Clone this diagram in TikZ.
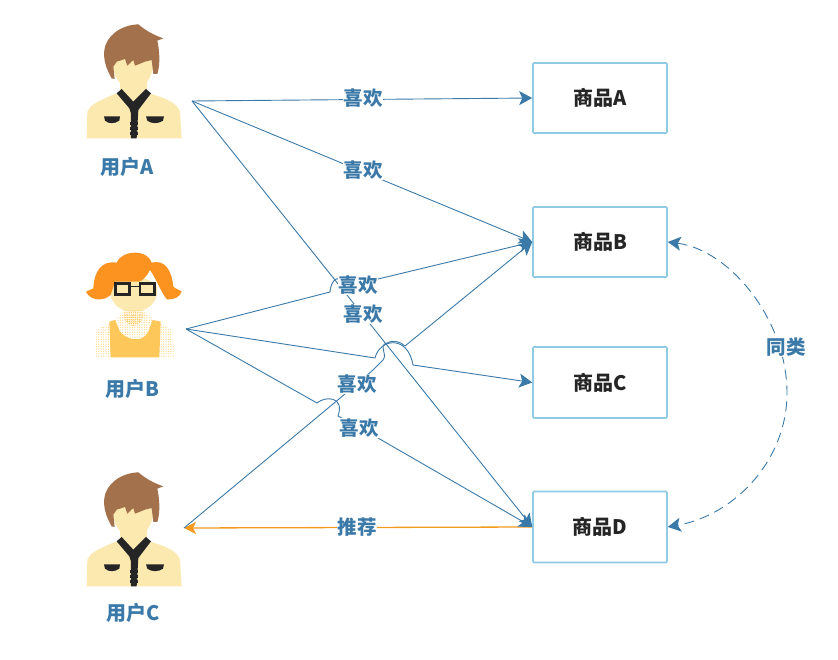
\documentclass[tikz,border=0pt]{standalone}
\usepackage{fontspec}
\setmainfont{Noto Sans CJK SC}
\usetikzlibrary{arrows.meta,patterns}
\definecolor{edgeblue}{HTML}{3A79A8}
\definecolor{boxblue}{HTML}{8FCBE3}
\definecolor{hairbrown}{HTML}{A3714C}
\definecolor{skin}{HTML}{FBE9B0}
\definecolor{ink}{HTML}{252525}
\definecolor{hairorange}{HTML}{FC9220}
\definecolor{top}{HTML}{FDC75A}
\definecolor{recom}{HTML}{F39A1F}
\tikzset{
 arrowblue/.tip={Stealth[length=13pt,width=14pt,inset=3pt]},
 link/.style={draw=edgeblue,line width=0.9pt,line join=round},
 tip/.style={-arrowblue},
 prod/.style={draw=boxblue,line width=1.6pt,rounded corners=1pt,fill=white,minimum width=134pt,inner sep=0pt,font=\bfseries\fontsize{20}{22}\selectfont,text=ink},
 lbl/.style={fill=white,inner sep=0.5pt,text=edgeblue,font=\bfseries\fontsize{19.5}{21}\selectfont},
 who/.style={inner sep=0pt,text=edgeblue,font=\bfseries\fontsize{20}{22}\selectfont},
}
\newcommand{\manfig}[2]{%
 \begin{scope}[shift={(#1,#2)},x=0.3333pt,y=-0.3333pt]
  \fill[skin] (50,385)--(52,305) .. controls (60,285) and (80,275) .. (135,252)--(245,252) .. controls (300,270) and (320,280) .. (330,305)--(335,385)--cycle;
  \fill[skin] (150,215) rectangle (230,260);
  \fill[skin] (122,120) .. controls (122,205) and (160,240) .. (188,240) .. controls (220,240) and (256,205) .. (254,120) --cycle;
  \fill[hairbrown] (125,205) .. controls (108,175) and (100,150) .. (103,120) .. controls (108,80) and (150,45) .. (205,43) .. controls (225,60) and (250,75) .. (280,85)--(262,92) .. controls (268,120) and (272,160) .. (262,192)--(250,192)--(245,150)--(225,155)--(195,167)--(190,150)--(172,167)--(165,147)--(140,155)--(130,170)--(134,207)--cycle;
  \fill[ink] (140,250)--(155,237)--(190,275)--(228,237)--(243,250)--(205,300)--(200,385)--(183,385)--(183,310)--(178,295)--cycle;
  \fill[ink] (180,337) rectangle (205,345);
  \fill[ink] (180,352) rectangle (205,360);
  \fill[ink] (180,367) rectangle (203,375);
  \fill[ink] (102,319) -- (150,319) -- (148,332) .. controls (135,342) and (115,342) .. (105,332) -- cycle;
  \fill[ink] (228,319) -- (282,319) -- (279,332) .. controls (265,342) and (245,342) .. (232,332) -- cycle;
 \end{scope}}
\newcommand{\womanfig}[2]{%
 \begin{scope}[shift={(#1,#2)},x=0.3333pt,y=-0.3333pt]
  \begin{scope}
   \clip (75,350)--(80,268)--(120,250)--(150,225)--(235,225)--(270,250)--(305,270)--(315,350)--cycle;
   \foreach \i in {0,...,34} \foreach \j in {0,...,20}
     \fill[top!60!skin] (72+\i*7.2,212+\j*7.2) circle (1.9);
  \end{scope}
  \fill[skin] (120,150) .. controls (120,190) and (150,215) .. (190,215) .. controls (232,215) and (262,190) .. (262,150) .. controls (262,100) and (120,100) .. (120,150)--cycle;
  \begin{scope}
   \clip (158,212) .. controls (158,240) and (175,258) .. (190,258) .. controls (205,258) and (224,240) .. (224,212) --cycle;
   \foreach \i in {0,...,10} \foreach \j in {0,...,7}
     \fill[top] (158+\i*6.5,212+\j*6.5) circle (2.4);
  \end{scope}
  \fill[top] (118,245)--(135,240)--(150,275) .. controls (165,295) and (215,315) .. (235,275)--(248,240)--(272,245)--(268,352)--(122,352)--cycle;
  \fill[hairorange] (48,155)--(70,145) .. controls (72,95) and (95,60) .. (140,68) .. controls (150,45) and (175,38) .. (195,38) .. controls (220,38) and (240,50) .. (245,68) .. controls (285,58) and (305,90) .. (310,140) .. controls (318,148) and (330,150) .. (335,155) .. controls (330,172) and (310,180) .. (290,178) .. controls (270,150) and (258,115) .. (240,90) .. controls (230,110) and (215,125) .. (205,125)--(135,125)--(122,165) .. controls (110,175) and (100,178) .. (90,178) .. controls (75,180) and (55,172) .. (48,155)--cycle;
  \draw[ink,line width=2.8pt,fill=skin] (137,131) rectangle (179,163);
  \draw[ink,line width=2.8pt,fill=skin] (210,131) rectangle (253,163);
  \draw[ink,line width=1.2pt] (179,140)--(210,140);
 \end{scope}}
\begin{document}
\begin{tikzpicture}[x=1pt,y=-1pt]
\useasboundingbox (0,0) rectangle (838,660);
\manfig{70}{10}
\womanfig{70}{240}
\manfig{70}{458}
\node[who] (nameA) at (127.5,167) {用户A};
\node[who] (nameB) at (132,389) {用户B};
\node[who] (nameC) at (133,613) {用户C};
\coordinate (uA) at (192,101);
\coordinate (uB) at (186,329);
\coordinate (uC) at (184,528);
\node[prod,minimum height=70pt] (pA) at (600,98) {商品A};
\node[prod,minimum height=70pt] (pB) at (600,242) {商品B};
\node[prod,minimum height=71pt] (pC) at (600,382.5) {商品C};
\node[prod,minimum height=71pt] (pD) at (600,527) {商品D};
% orange recommendation
\draw[recom,line width=1.3pt,-{Stealth[length=12pt,width=12pt,inset=3pt]}] (pD.west) -- (uC);
% user A
\draw[link,tip] (uA) -- (pA.west);
\draw[link,tip] (uA) -- (pB.west);
\draw[link,tip] (uA) -- (pD.west);
% user B
\draw[link,tip] (uB) -- (330,292) .. controls (331,280) and (338,275) .. (342,282) -- (378,279) -- (pB.west);
\draw[link,tip] (uB) -- (375,358) .. controls (380,338) and (408,335) .. (413,365) -- (pC.west);
\draw[link,tip] (uB) -- (317,403) .. controls (325,396) and (345,396) .. (338,416) -- (378,438) -- (pD.west);
% user C to B
\draw[link,tip] (uC) -- (339,399) -- (373,370) -- (383,360) .. controls (388,354) and (378,345) .. (387,343) .. controls (392,340) and (400,341) .. (405,346) -- (pB.west);
% same-kind dashed curve
\draw[draw=edgeblue,line width=0.9pt,dash pattern=on 10pt off 6pt,arrowblue-arrowblue]
  (pB.east) .. controls (730,250) and (787,320) .. (787,393) .. controls (787,460) and (735,515) .. (pD.east);
% labels
\node[lbl] (l1) at (363,98) {喜欢};
\node[lbl] (l2) at (363,170) {喜欢};
\node[lbl] (l3) at (358,285) {喜欢};
\node[lbl] (l4) at (363,314) {喜欢};
\node[lbl] (l5) at (357,384) {喜欢};
\node[lbl] (l6) at (359,428) {喜欢};
\node[lbl] (l7) at (357,527) {推荐};
\node[lbl] (l8) at (786,347) {同类};
\end{tikzpicture}
\end{document}
